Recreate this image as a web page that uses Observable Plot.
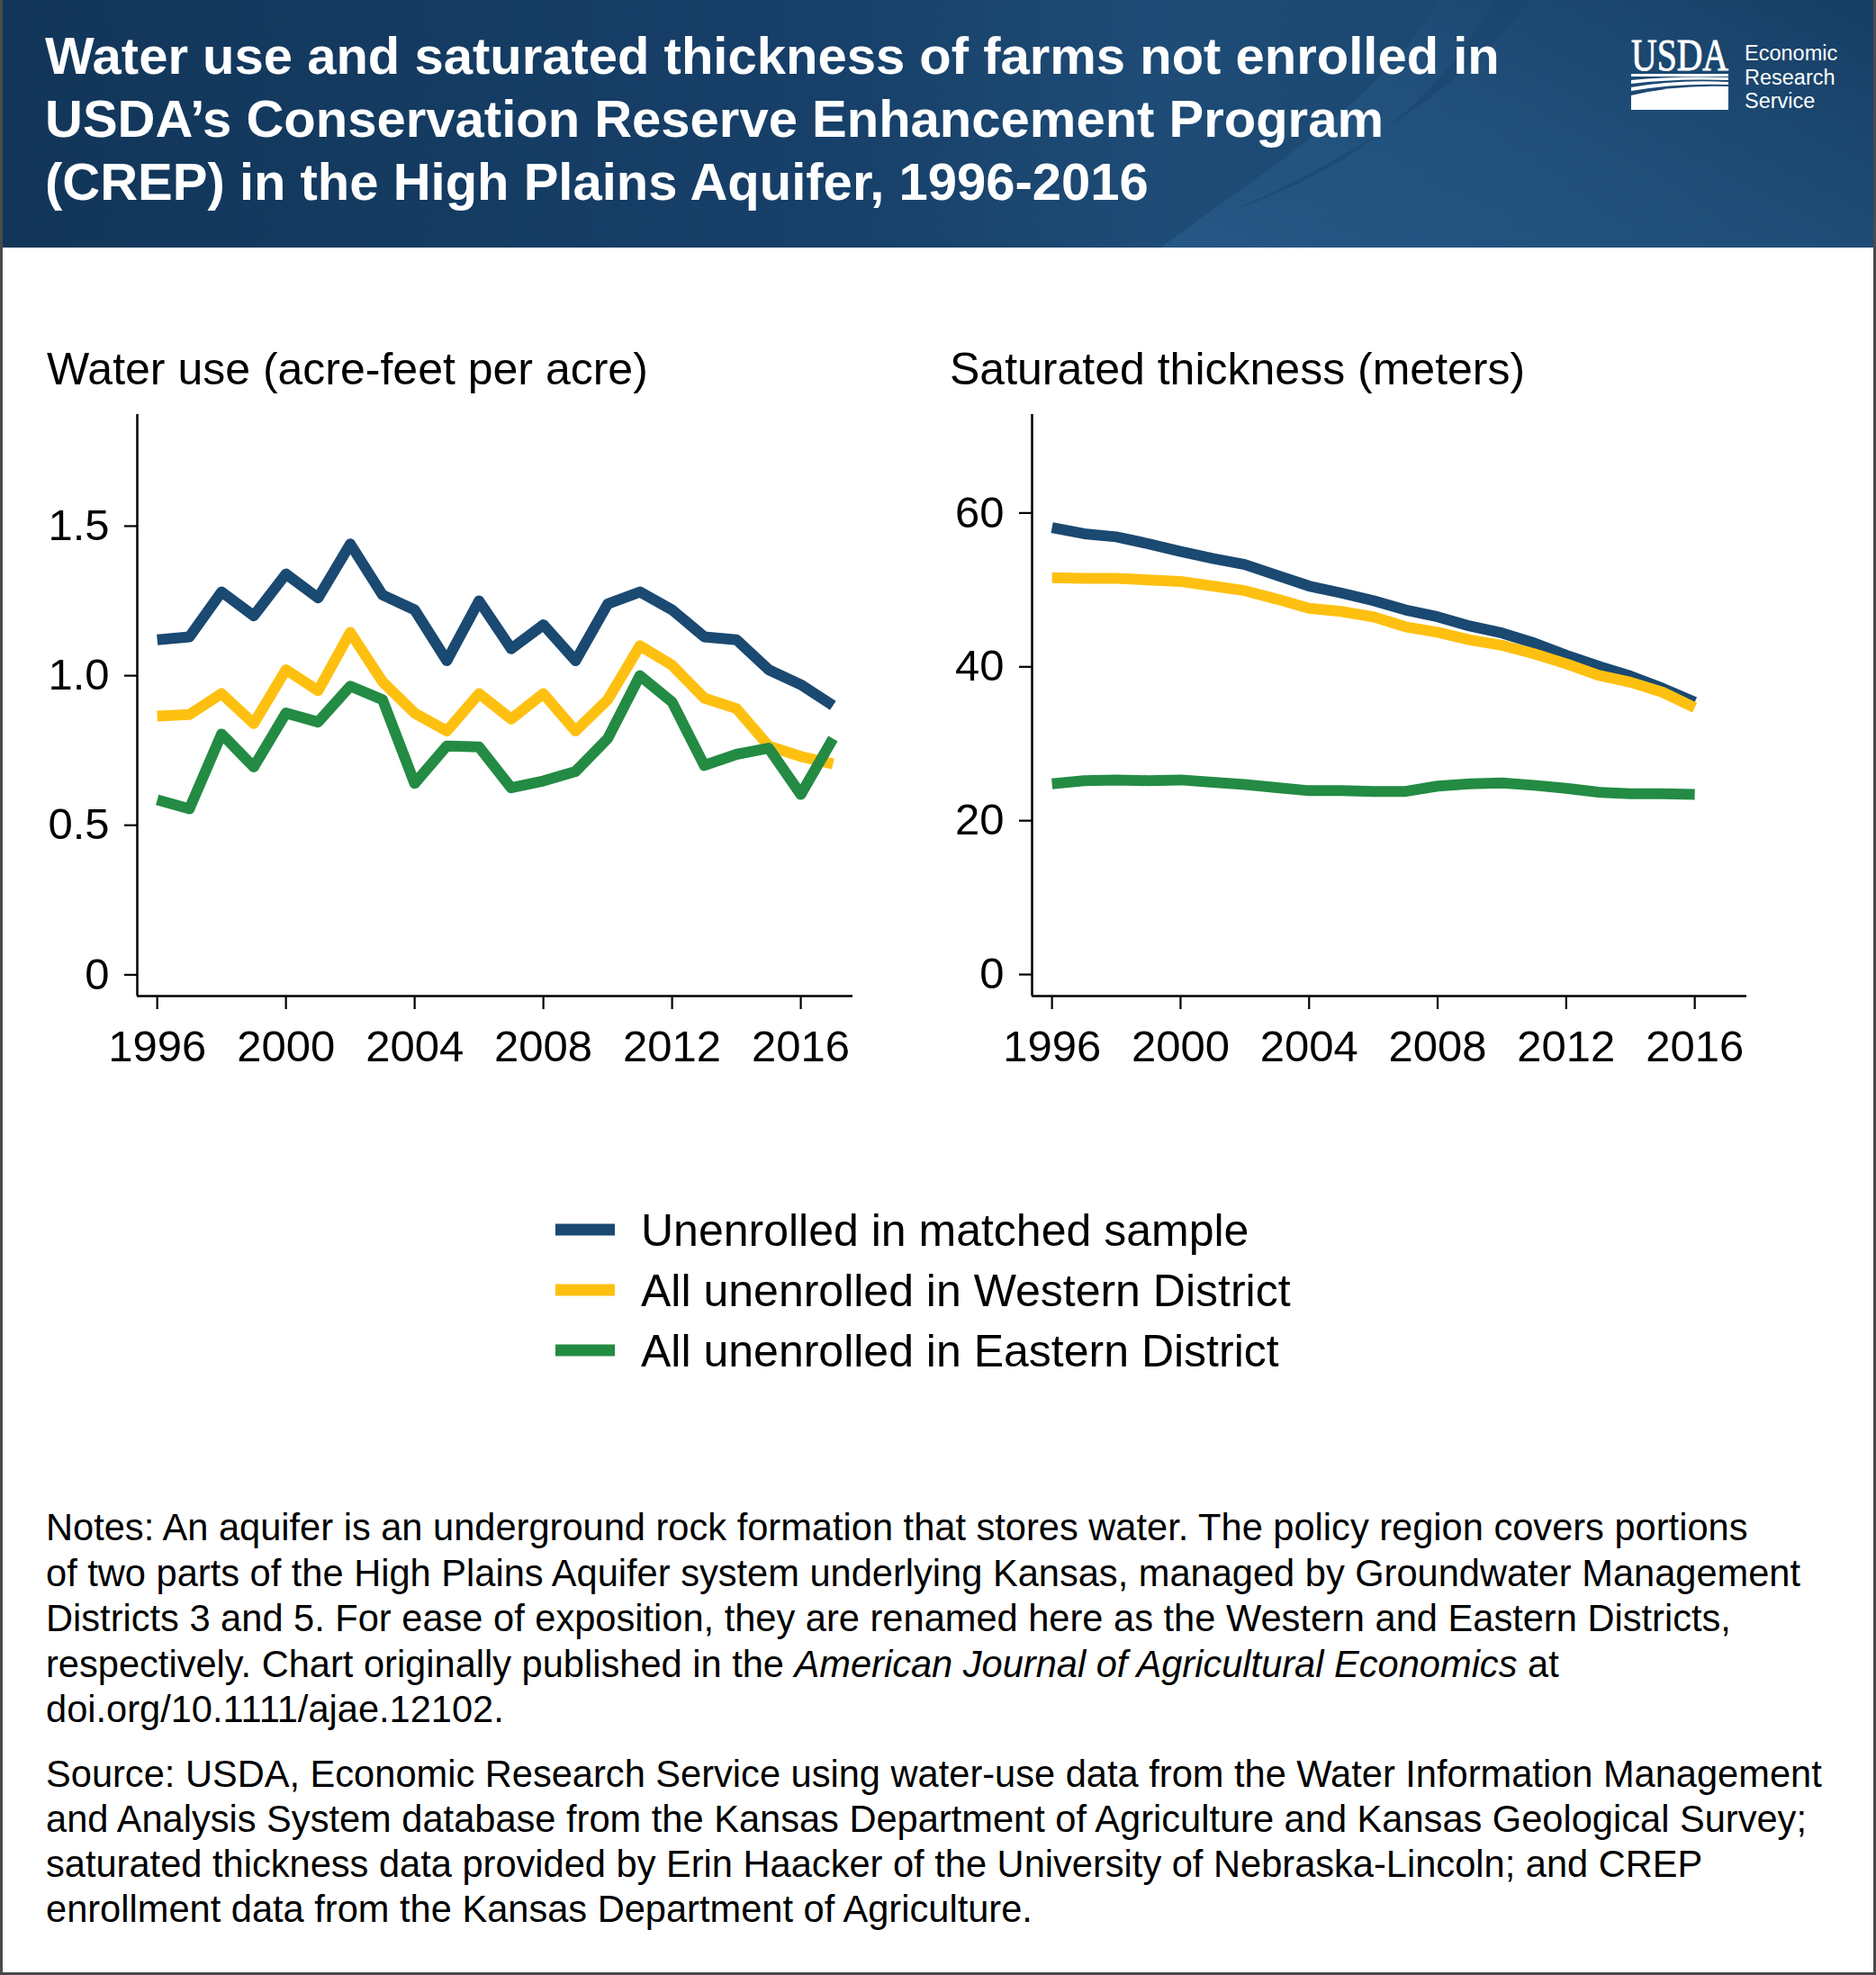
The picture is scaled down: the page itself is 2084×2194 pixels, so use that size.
<!DOCTYPE html>
<html>
<head>
<meta charset="utf-8">
<script src="https://cdn.jsdelivr.net/npm/d3@7"></script>
<script src="https://cdn.jsdelivr.net/npm/@observablehq/plot@0.6"></script>
<style>
  html, body { margin: 0; padding: 0; background: #fff; }
  #page { position: relative; width: 2084px; height: 2194px; overflow: hidden; background: #fff;
          font-family: "Liberation Sans", Arial, Helvetica, sans-serif; }
  #overlay { position: absolute; left: 0; top: 0; }
</style>
</head>
<body>
<div id="page"></div>
<script>
// ---------------- DATA ----------------
const titleLines = [
  "Water use and saturated thickness of farms not enrolled in",
  "USDA\u2019s Conservation Reserve Enhancement Program",
  "(CREP) in the High Plains Aquifer, 1996-2016"
];
const panelTitles = ["Water use (acre-feet per acre)", "Saturated thickness (meters)"];

const seriesNames = [
  "Unenrolled in matched sample",
  "All unenrolled in Western District",
  "All unenrolled in Eastern District"
];
const seriesColors = ["#1a4971", "#fec010", "#238b43"];

const waterYears = [1996,1997,1998,1999,2000,2001,2002,2003,2004,2005,2006,2007,2008,2009,2010,2011,2012,2013,2014,2015,2016,2017];
const waterMatched = [1.12,1.13,1.28,1.20,1.34,1.26,1.44,1.27,1.22,1.05,1.25,1.09,1.17,1.05,1.24,1.28,1.22,1.13,1.12,1.02,0.97,0.90];
const waterWestern = [0.865,0.87,0.94,0.84,1.02,0.95,1.145,0.98,0.875,0.815,0.94,0.855,0.94,0.815,0.92,1.10,1.035,0.925,0.89,0.765,0.73,0.705];
const waterEastern = [0.585,0.555,0.805,0.695,0.875,0.845,0.965,0.92,0.64,0.765,0.762,0.625,0.648,0.68,0.79,1.0,0.912,0.70,0.737,0.758,0.603,0.79];

const thickYears = [1996,1997,1998,1999,2000,2001,2002,2003,2004,2005,2006,2007,2008,2009,2010,2011,2012,2013,2014,2015,2016];
const thickMatched = [58.1,57.3,56.9,56.0,55.0,54.1,53.3,51.9,50.5,49.6,48.6,47.4,46.5,45.3,44.4,43.1,41.5,40.1,38.8,37.2,35.4];
const thickWestern = [51.6,51.5,51.5,51.3,51.1,50.5,49.9,48.8,47.6,47.2,46.5,45.2,44.5,43.5,42.8,41.7,40.4,38.9,38.0,36.7,34.7];
const thickEastern = [24.8,25.2,25.3,25.2,25.3,25.0,24.7,24.3,23.9,23.9,23.8,23.8,24.5,24.8,24.9,24.6,24.2,23.7,23.5,23.5,23.4];

const xTicks = [1996, 2000, 2004, 2008, 2012, 2016];
const waterTicks = [0, 0.5, 1.0, 1.5];
const waterTickLabels = ["0", "0.5", "1.0", "1.5"];
const thickTicks = [0, 20, 40, 60];
const thickTickLabels = ["0", "20", "40", "60"];

const notesLines = [
  "Notes: An aquifer is an underground rock formation that stores water. The policy region covers portions",
  "of two parts of the High Plains Aquifer system underlying Kansas, managed by Groundwater Management",
  "Districts 3 and 5. For ease of exposition, they are renamed here as the Western and Eastern Districts,",
  ["respectively. Chart originally published in the ", "American Journal of Agricultural Economics", " at"],
  "doi.org/10.1111/ajae.12102."
];
const sourceLines = [
  "Source: USDA, Economic Research Service using water-use data from the Water Information Management",
  "and Analysis System database from the Kansas Department of Agriculture and Kansas Geological Survey;",
  "saturated thickness data provided by Erin Haacker of the University of Nebraska-Lincoln; and CREP",
  "enrollment data from the Kansas Department of Agriculture."
];
const logoLines = ["Economic", "Research", "Service"];

// ---------------- LAYOUT ----------------
const FONT = '"Liberation Sans", Arial, Helvetica, sans-serif';
const W = 2084, H = 2194;
const page = document.getElementById("page");

const svg = d3.select(page).append("svg")
  .attr("id", "overlay").attr("width", W).attr("height", H)
  .style("font-family", FONT);

const defs = svg.append("defs");
const hg = defs.append("linearGradient").attr("id", "hdr").attr("x1", 0).attr("x2", 1).attr("y1", 0).attr("y2", 0);
[["0%", "#123659"], ["45%", "#17406a"], ["62%", "#1e4c76"], ["80%", "#1b4770"], ["100%", "#143b60"]]
  .forEach(([o, c]) => hg.append("stop").attr("offset", o).attr("stop-color", c));
const sg = defs.append("linearGradient").attr("id", "swoosh").attr("x1", 0).attr("x2", 1).attr("y1", 1).attr("y2", 0);
[["0%", "#295c8c"], ["50%", "#22537f"], ["100%", "#173f66"]]
  .forEach(([o, c]) => sg.append("stop").attr("offset", o).attr("stop-color", c));

// header band
svg.append("rect").attr("x", 0).attr("y", 0).attr("width", W).attr("height", 275).attr("fill", "url(#hdr)");
svg.append("path")
  .attr("d", "M1290,275 C1380,205 1530,120 1598,0 L2084,0 L2084,275 Z")
  .attr("fill", "url(#swoosh)").attr("opacity", 0.7);
svg.append("path")
  .attr("d", "M1660,0 C1600,110 1500,190 1372,232 C1520,170 1640,80 1700,0 Z")
  .attr("fill", "#17426b").attr("opacity", 0.5);

// title
svg.append("g").selectAll("text").data(titleLines).join("text")
  .attr("x", 50).attr("y", (d, i) => 82 + i * 70)
  .attr("fill", "#fff").attr("font-weight", "bold").attr("font-size", 58)
  .text(d => d);

// USDA logo
const logo = svg.append("g").attr("fill", "#fff");
logo.append("text").attr("x", 1812).attr("y", 78)
  .attr("font-family", '"Liberation Serif", "DejaVu Serif", serif')
  .attr("font-size", 50).attr("textLength", 108).attr("lengthAdjust", "spacingAndGlyphs")
  .attr("stroke", "#fff").attr("stroke-width", 0.9)
  .text("USDA");
logo.append("rect").attr("x", 1812).attr("y", 82).attr("width", 108).attr("height", 3);
logo.append("path").attr("d", "M1812,89 Q1860,84 1920,86 L1920,89 Q1860,87 1812,93 Z");
logo.append("path").attr("d", "M1812,97 Q1862,88 1920,91 L1920,94 Q1862,92 1812,101 Z");
logo.append("path").attr("d", "M1812,122 L1812,106 Q1862,94 1920,96 L1920,122 Z");
logo.append("g").selectAll("text").data(logoLines).join("text")
  .attr("x", 1938).attr("y", (d, i) => 67 + i * 26.5)
  .attr("font-size", 23.5).text(d => d);

// panel titles
svg.append("g").selectAll("text").data(panelTitles).join("text")
  .attr("x", (d, i) => [52, 1055][i]).attr("y", 427)
  .attr("font-size", 50).attr("fill", "#000").text(d => d);

// legend
const leg = svg.append("g").selectAll("g").data(seriesNames).join("g")
  .attr("transform", (d, i) => `translate(0, ${1366 + i * 67})`);
leg.append("rect").attr("x", 617).attr("y", -6.5).attr("width", 66).attr("height", 13)
  .attr("fill", (d, i) => seriesColors[i]);
leg.append("text").attr("x", 712).attr("y", 18).attr("font-size", 50).attr("fill", "#000").text(d => d);

// notes & source
const notes = svg.append("g").attr("font-size", 41.6).attr("fill", "#000");
notesLines.forEach((line, i) => {
  const t = notes.append("text").attr("x", 51).attr("y", 1711 + i * 50.5);
  if (Array.isArray(line)) {
    line.forEach((seg, k) => t.append("tspan").attr("font-style", k === 1 ? "italic" : null).text(seg));
  } else t.text(line);
});
sourceLines.forEach((line, i) => {
  notes.append("text").attr("x", 51).attr("y", 1984.5 + i * 50.2).text(line);
});

// outer border
svg.append("path").attr("d", `M1.5,0 L1.5,${H - 1.5} L${W - 1.5},${H - 1.5} L${W - 1.5},0`)
  .attr("fill", "none").attr("stroke", "#4a4a4a").attr("stroke-width", 3);

// ---------------- CHARTS ----------------
const xDomain = [1995.38, 2017.62];

function rowsFor(years, seriesArrays) {
  return seriesArrays.flatMap((vals, i) =>
    vals.map((v, j) => ({ year: years[j], value: v, series: seriesNames[i] })));
}

function chart({ rows, yDomain, yTicks, yLabels, left, marginLeft, marginRight }) {
  const el = Plot.plot({
    width: 1000, height: 780,
    marginTop: 20, marginBottom: 114, marginLeft, marginRight,
    x: { domain: xDomain, label: null },
    y: { domain: yDomain, label: null },
    color: { domain: seriesNames, range: seriesColors },
    style: { background: "transparent", fontFamily: FONT, color: "#000", overflow: "visible" },
    marks: [
      Plot.axisY({ ticks: yTicks, tickFormat: d => yLabels[yTicks.indexOf(d)], label: null,
                   tickSize: 14, tickPadding: 17, strokeWidth: 2.2, fontSize: 49 }),
      Plot.axisX({ ticks: xTicks, tickFormat: d => String(d), label: null,
                   tickSize: 15, tickPadding: 23, strokeWidth: 2.2, fontSize: 49 }),
      Plot.ruleX([xDomain[0]], { stroke: "#000", strokeWidth: 2.5 }),
      Plot.ruleY([yDomain[0]], { stroke: "#000", strokeWidth: 2.5 }),
      Plot.line(rows, { x: "year", y: "value", z: "series", stroke: "series",
                        strokeWidth: 12, strokeLinecap: "butt", strokeLinejoin: "round" })
    ]
  });
  el.style.position = "absolute";
  el.style.left = left + "px";
  el.style.top = "440px";
  el.style.maxWidth = "none";
  page.appendChild(el);
}

chart({
  rows: rowsFor(waterYears, [waterMatched, waterWestern, waterEastern]),
  yDomain: [-0.071, 1.873], yTicks: waterTicks, yLabels: waterTickLabels,
  left: 0, marginLeft: 152, marginRight: 53
});
chart({
  rows: rowsFor(thickYears, [thickMatched, thickWestern, thickEastern]),
  yDomain: [-2.8, 72.8], yTicks: thickTicks, yLabels: thickTickLabels,
  left: 1000, marginLeft: 146, marginRight: 60
});
</script>
</body>
</html>
